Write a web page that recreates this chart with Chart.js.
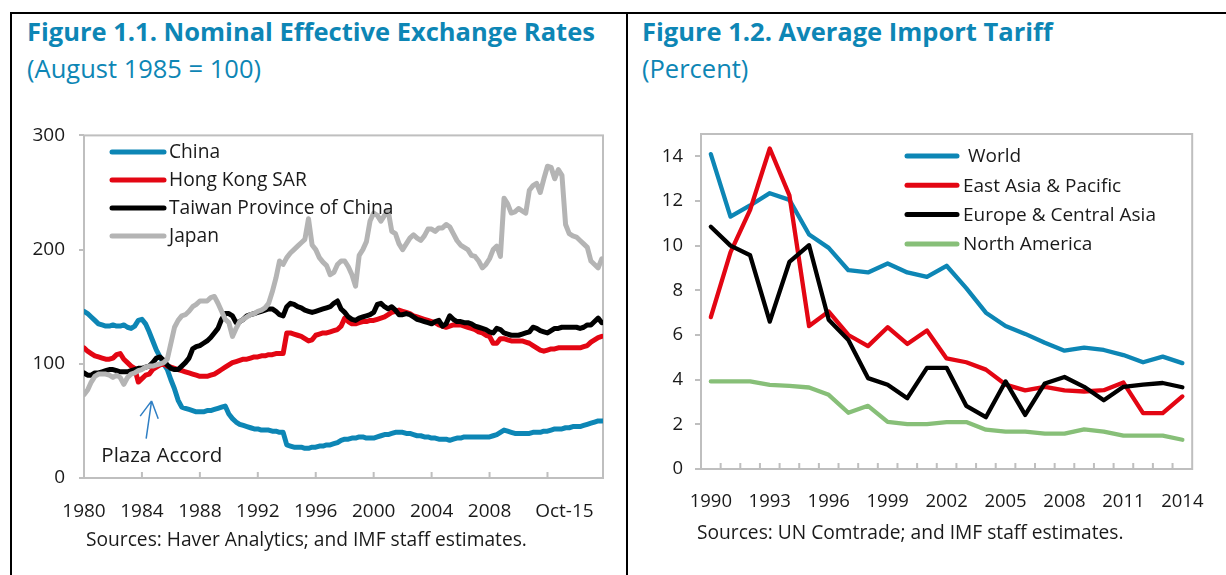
<!DOCTYPE html>
<html>
<head>
<meta charset="utf-8">
<title>Figures 1.1 and 1.2</title>
<script src="https://cdn.jsdelivr.net/npm/chart.js@4.4.1/dist/chart.umd.min.js"></script>
<style>
    html, body { margin: 0; padding: 0; background: #fff; }
    body { width: 1226px; height: 575px; position: relative; overflow: hidden; font-family: 'Open Sans', sans-serif; color: #1a1a1a; }
    .rule { position: absolute; background: #000; }
    .title { position: absolute; font-weight: bold; color: #0d86b5; font-size: 25.5px; line-height: 1; white-space: nowrap; }
    .subtitle { position: absolute; color: #0d86b5; font-size: 25.5px; line-height: 1; white-space: nowrap; }
    .source { position: absolute; font-size: 19.2px; line-height: 1; white-space: nowrap; }
    canvas { position: absolute; }
</style>
</head>
<body>
<div class="rule" style="left:10px; top:12px; width:1216px; height:2px"></div>
<div class="rule" style="left:10px; top:12px; width:2px; height:563px"></div>
<div class="rule" style="left:626px; top:12px; width:2px; height:563px"></div>

<div class="title" style="left:27px; top:19px">Figure 1.1. Nominal Effective Exchange Rates</div>
<div class="subtitle" style="left:27px; top:56px">(August 1985 = 100)</div>
<div class="title" style="left:642px; top:19px">Figure 1.2. Average Import Tariff</div>
<div class="subtitle" style="left:642px; top:56px">(Percent)</div>

<canvas id="neer-chart" width="600" height="460" style="left:20px; top:110px"></canvas>
<canvas id="tariff-chart" width="586" height="460" style="left:640px; top:110px"></canvas>

<div class="source" style="left:86px; top:529px">Sources: Haver Analytics; and IMF staff estimates.</div>
<div class="source" style="left:697px; top:522px">Sources: UN Comtrade; and IMF staff estimates.</div>

<script>
// ===================== 图 1.1 数据（季度读数：1/4/7/10 月，1985年8月 = 100） =====================
const chinaNeer = [
    146, 144, 141, 138,  135, 134, 133, 133,  134, 133, 133, 134,  132, 131, 133, 138,
    139, 135, 128, 120,  112, 106, 100, 95,   86, 78, 68, 62,      61, 60, 59, 58,
    58, 58, 59, 59,      60, 61, 62, 63,      56, 52, 49, 47,      46, 45, 44, 43,
    43, 42, 42, 42,      41, 41, 40, 40,      29, 28, 27, 27,      27, 26, 26, 27,
    27, 28, 28, 29,      29, 30, 31, 33,      34, 34, 35, 35,      36, 36, 35, 35,
    35, 36, 37, 38,      38, 39, 40, 40,      40, 39, 39, 38,      37, 37, 36, 36,
    35, 35, 34, 34,      34, 33, 34, 35,      35, 36, 36, 36,      36, 36, 36, 36,
    36, 37, 38, 40,      42, 41, 40, 39,      39, 39, 39, 39,      40, 40, 40, 41,
    41, 42, 43, 43,      43, 44, 44, 45,      45, 45, 46, 47,      48, 49, 50, 50
];
const hongKongNeer = [
    114, 111, 109, 107,  106, 105, 104, 104,  105, 108, 109, 104,  101, 98, 96, 84,
    87, 90, 91, 95,      97, 99, 100, 98,     97, 96, 95, 94,      93, 92, 91, 90,
    89, 89, 89, 90,      91, 93, 95, 97,      99, 101, 102, 103,   104, 104, 105, 106,
    106, 107, 107, 108,  108, 109, 109, 109,  127, 127, 126, 125,  124, 122, 120, 121,
    125, 126, 127, 127,  128, 129, 130, 133,  140, 137, 135, 135,  136, 137, 137, 138,
    138, 139, 140, 141,  143, 145, 146, 147,  146, 145, 144, 142,  141, 140, 139, 138,
    137, 136, 134, 133,  132, 133, 134, 134,  134, 133, 132, 131,  130, 128, 127, 125,
    124, 118, 118, 122,  122, 121, 120, 120,  120, 120, 119, 118,  116, 114, 112, 111,
    112, 113, 113, 114,  114, 114, 114, 114,  114, 114, 115, 116,  119, 121, 123, 124
];
const taiwanNeer = [
    92, 90, 90, 92,      92, 93, 94, 95,      95, 94, 93, 93,      93, 94, 95, 96,
    96, 97, 98, 101,     105, 106, 103, 99,   96, 95, 95, 98,      101, 105, 113, 115,
    116, 118, 120, 123,  127, 131, 139, 144,  144, 142, 136, 137,  139, 142, 143, 144,
    145, 146, 147, 148,  148, 146, 143, 142,  150, 153, 152, 150,  149, 147, 146, 145,
    146, 147, 148, 149,  150, 153, 155, 148,  145, 141, 139, 138,  140, 141, 142, 143,
    145, 152, 153, 150,  148, 150, 147, 143,  143, 144, 143, 141,  139, 138, 137, 136,
    135, 137, 138, 133,  135, 142, 139, 137,  137, 136, 136, 135,  133, 132, 131, 130,
    128, 127, 131, 130,  127, 126, 125, 125,  125, 126, 127, 128,  132, 131, 129, 128,
    127, 129, 131, 131,  132, 132, 132, 132,  132, 131, 132, 134,  134, 137, 140, 136
];
const japanNeer = [
    73, 77, 84, 89,      91, 91, 91, 90,      88, 90, 88, 82,      88, 91, 92, 94,
    95, 97, 98, 98,      99, 100, 101, 104,   118, 132, 138, 142,  143, 146, 150, 152,
    155, 155, 155, 158,  159, 153, 146, 139,  136, 124, 131, 137,  139, 141, 143, 144,
    146, 147, 149, 153,  163, 175, 190, 187,  193, 197, 200, 203,  206, 209, 227, 204,
    200, 193, 189, 186,  178, 180, 187, 190,  190, 185, 178, 168,  195, 200, 207, 225,
    232, 230, 225, 230,  234, 216, 214, 205,  200, 205, 210, 213,  210, 208, 212, 218,
    218, 216, 219, 219,  222, 220, 214, 208,  204, 202, 200, 195,  194, 190, 184, 187,
    192, 200, 203, 194,  245, 240, 232, 233,  236, 234, 232, 252,  256, 258, 250, 262,
    273, 272, 262, 270,  265, 222, 214, 212,  211, 208, 205, 202,  190, 187, 184, 192
];
// 横轴：自 1980 年 1 月起的月份序号
const neerMonths = chinaNeer.map((_, i) => i * 3);
const neerLabelMonths = [0, 48, 96, 144, 192, 240, 288, 336, 398];
const neerLabelText = ['1980', '1984', '1988', '1992', '1996', '2000', '2004', '2008', 'Oct-15'];
const neerTickMonths = [48, 96, 144, 192, 240, 288, 336, 384];

// ===================== 图 1.2 数据（百分比） =====================
const tariffYears = ['1990', '1991', '1992', '1993', '1994', '1995', '1996', '1997', '1998', '1999',
    '2000', '2001', '2002', '2003', '2004', '2005', '2006', '2007', '2008', '2009',
    '2010', '2011', '2012', '2013', '2014'];
const worldTariff = [14.1, 11.3, 11.8, 12.35, 12.05, 10.5, 9.9, 8.9, 8.8, 9.2,
    8.8, 8.6, 9.1, 8.1, 7.0, 6.4, 6.05, 5.65, 5.3, 5.43,
    5.33, 5.1, 4.78, 5.03, 4.74];
const eastAsiaTariff = [6.8, 9.7, 11.6, 14.35, 12.25, 6.4, 7.05, 6.0, 5.5, 6.35,
    5.6, 6.2, 4.95, 4.78, 4.45, 3.78, 3.52, 3.68, 3.52, 3.47,
    3.53, 3.87, 2.5, 2.5, 3.25];
const europeTariff = [10.85, 10.0, 9.57, 6.6, 9.27, 10.02, 6.68, 5.78, 4.07, 3.77,
    3.17, 4.53, 4.53, 2.83, 2.32, 3.92, 2.42, 3.83, 4.12, 3.68,
    3.08, 3.68, 3.78, 3.85, 3.66];
const northAmericaTariff = [3.92, 3.92, 3.92, 3.77, 3.72, 3.65, 3.32, 2.52, 2.83, 2.11,
    2.01, 2.01, 2.1, 2.1, 1.76, 1.67, 1.67, 1.58, 1.58, 1.77,
    1.67, 1.49, 1.49, 1.49, 1.31];

// 配色
const BLUE = '#0d86b5';
const RED = '#e30613';
const GRAY = '#b4b4b4';
const GREEN = '#87bf78';
const AXIS = '#bfbfbf';

Chart.defaults.font.family = "'Open Sans', sans-serif";
Chart.defaults.color = '#1a1a1a';

// ===================== 插件 =====================
// 绘图区外框 + 朝内的刻度线
const frameTicks = {
    id: 'frameTicks',
    beforeDatasetsDraw(chart, args, o) {
        const { ctx, chartArea: a } = chart;
        ctx.save();
        ctx.strokeStyle = AXIS;
        ctx.lineWidth = 2;
        ctx.strokeRect(a.left, a.top, a.right - a.left, a.bottom - a.top);
        ctx.beginPath();
        o.marks(chart).forEach(px => {
            ctx.moveTo(px, a.bottom);
            ctx.lineTo(px, a.bottom - o.length);
        });
        ctx.stroke();
        ctx.restore();
    }
};

// 图内图例（竖排）
const insideLegend = {
    id: 'insideLegend',
    afterDraw(chart, args, o) {
        const ctx = chart.ctx;
        ctx.save();
        ctx.font = `${o.fontSize}px 'Open Sans', sans-serif`;
        ctx.textBaseline = 'middle';
        ctx.fillStyle = '#1a1a1a';
        chart.data.datasets.forEach((ds, i) => {
            const y = o.top + i * o.rowGap;
            ctx.strokeStyle = ds.borderColor;
            ctx.lineWidth = o.lineWidth;
            ctx.lineCap = 'round';
            ctx.beginPath();
            ctx.moveTo(o.left, y);
            ctx.lineTo(o.left + o.lineLength, y);
            ctx.stroke();
            ctx.fillText(ds.label, o.left + o.lineLength + o.textGap, y + 1);
        });
        ctx.restore();
    }
};

// 广场协议标注
const plazaNote = {
    id: 'plazaNote',
    afterDatasetsDraw(chart, args, o) {
        if (!o.text) return;
        const { ctx, scales: { x, y } } = chart;
        const x0 = x.getPixelForValue(o.from.x), y0 = y.getPixelForValue(o.from.y);
        const x1 = x.getPixelForValue(o.to.x), y1 = y.getPixelForValue(o.to.y);
        const back = Math.atan2(y0 - y1, x0 - x1);
        ctx.save();
        ctx.strokeStyle = o.color;
        ctx.lineWidth = 1.5;
        ctx.beginPath();
        ctx.moveTo(x0, y0);
        ctx.lineTo(x1, y1);
        [-0.5, 0.5].forEach(d => {
            ctx.moveTo(x1, y1);
            ctx.lineTo(x1 + o.head * Math.cos(back + d), y1 + o.head * Math.sin(back + d));
        });
        ctx.stroke();
        ctx.font = `${o.fontSize}px 'Open Sans', sans-serif`;
        ctx.fillStyle = '#1a1a1a';
        ctx.textAlign = 'center';
        ctx.textBaseline = 'middle';
        ctx.fillText(o.text, x.getPixelForValue(o.at.x), y.getPixelForValue(o.at.y));
        ctx.restore();
    }
};

// ===================== 图 1.1 =====================
function neerSeries(label, values, color, order) {
    return {
        label,
        data: values.map((v, i) => ({ x: neerMonths[i], y: v })),
        borderColor: color,
        backgroundColor: color,
        borderWidth: 5,
        pointRadius: 0,
        tension: 0,
        borderJoinStyle: 'round',
        borderCapStyle: 'round',
        order
    };
}

new Chart(document.getElementById('neer-chart'), {
    type: 'line',
    data: {
        datasets: [
            neerSeries('China', chinaNeer, BLUE, 4),
            neerSeries('Hong Kong SAR', hongKongNeer, RED, 3),
            neerSeries('Taiwan Province of China', taiwanNeer, '#000000', 2),
            neerSeries('Japan', japanNeer, GRAY, 1)
        ]
    },
    options: {
        responsive: false,
        animation: false,
        devicePixelRatio: 1,
        layout: { padding: { top: 21, right: 17, bottom: 0, left: 0 } },
        scales: {
            x: {
                type: 'linear',
                min: 0,
                max: 430,
                grid: { display: false, drawTicks: false },
                border: { display: false },
                afterFit: (s) => { s.height = 92; },
                afterBuildTicks: (s) => { s.ticks = neerLabelMonths.map(v => ({ value: v })); },
                ticks: {
                    padding: 22,
                    font: { size: 19 },
                    maxRotation: 0,
                    autoSkip: false,
                    callback: (v) => neerLabelText[neerLabelMonths.indexOf(v)]
                }
            },
            y: {
                min: 0,
                max: 300,
                grid: { drawOnChartArea: false, tickLength: 5, color: AXIS, lineWidth: 2 },
                border: { display: false },
                afterFit: (s) => { s.width = 64; },
                ticks: { stepSize: 100, padding: 14, font: { size: 19 } }
            }
        },
        plugins: {
            legend: { display: false },
            tooltip: { enabled: false },
            frameTicks: {
                length: 6,
                marks: (chart) => neerTickMonths.map(m => chart.scales.x.getPixelForValue(m))
            },
            insideLegend: { left: 92, top: 42, rowGap: 28, lineLength: 52, lineWidth: 5, textGap: 5, fontSize: 19.2 },
            plazaNote: {
                text: 'Plaza Accord',
                from: { x: 51.5, y: 34.5 },
                to: { x: 56, y: 67.5 },
                at: { x: 64.5, y: 19 },
                head: 19,
                color: '#2f7fc4',
                fontSize: 20.5
            }
        }
    },
    plugins: [frameTicks, insideLegend, plazaNote]
});

// ===================== 图 1.2 =====================
function tariffSeries(label, values, color, order) {
    return {
        label,
        data: values,
        borderColor: color,
        backgroundColor: color,
        borderWidth: 4.3,
        pointRadius: 0,
        tension: 0,
        borderJoinStyle: 'round',
        borderCapStyle: 'round',
        order
    };
}

new Chart(document.getElementById('tariff-chart'), {
    type: 'line',
    data: {
        labels: tariffYears,
        datasets: [
            tariffSeries(' World', worldTariff, BLUE, 4),
            tariffSeries('East Asia & Pacific', eastAsiaTariff, RED, 3),
            tariffSeries('Europe & Central Asia', europeTariff, '#000000', 2),
            tariffSeries('North America', northAmericaTariff, GREEN, 1)
        ]
    },
    options: {
        responsive: false,
        animation: false,
        devicePixelRatio: 1,
        layout: { padding: { top: 24, right: 24, bottom: 0, left: 0 } },
        scales: {
            x: {
                offset: true,
                grid: { display: false, drawTicks: false },
                border: { display: false },
                afterFit: (s) => { s.height = 101; },
                ticks: {
                    padding: 22,
                    font: { size: 18.5 },
                    maxRotation: 0,
                    autoSkip: false,
                    callback: (v, i) => (i % 3 === 0 ? tariffYears[i] : '')
                }
            },
            y: {
                min: 0,
                max: 15,
                grid: { drawOnChartArea: false, tickLength: 6, color: AXIS, lineWidth: 2 },
                border: { display: false },
                afterFit: (s) => { s.width = 61; },
                afterBuildTicks: (s) => { s.ticks = s.ticks.filter(t => t.value <= 14); },
                ticks: { stepSize: 2, padding: 12, font: { size: 18.5 } }
            }
        },
        plugins: {
            legend: { display: false },
            tooltip: { enabled: false },
            frameTicks: {
                length: 6,
                marks: (chart) => {
                    const xs = chart.scales.x;
                    const out = [];
                    for (let i = 1; i < tariffYears.length; i++) {
                        out.push((xs.getPixelForValue(i - 1) + xs.getPixelForValue(i)) / 2);
                    }
                    return out;
                }
            },
            insideLegend: { left: 267, top: 46, rowGap: 29.3, lineLength: 50, lineWidth: 5, textGap: 6, fontSize: 19 }
        }
    },
    plugins: [frameTicks, insideLegend]
});
</script>
</body>
</html>
